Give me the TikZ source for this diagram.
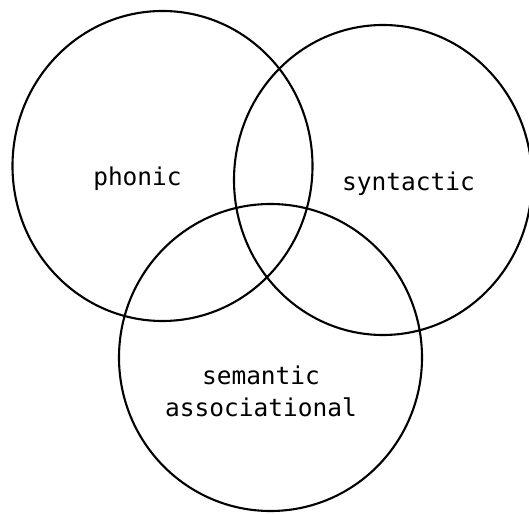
\documentclass[tikz,border=0pt]{standalone}
\usepackage{fontspec}
\setmonofont{DejaVu Sans Mono}
\usetikzlibrary{shapes.geometric}

\begin{document}
\begin{tikzpicture}[x=1pt,y=1pt,
  font=\ttfamily\fontsize{24.5}{32}\selectfont,
  ring/.style={ellipse,draw=black,line width=2.1pt,minimum width=300pt,
    minimum height=310pt,inner sep=0pt},
  tag/.style={align=center,inner sep=0pt}
]
\useasboundingbox (0,0) rectangle (529,513);
% The three overlapping sets.
\node[ring] (phonicset) at (162.5,347) {};
\node[ring,minimum width=298pt] (syntacticset) at (383,333) {};
\node[ring,minimum width=303pt,minimum height=307pt] (semanticset) at (270.5,155.5) {};
% Set labels.
\node[tag] (phonic) at (137.5,334) {phonic};
\node[tag] (syntactic) at (408.5,329) {syntactic};
\node[tag] (semantic) at (261,122) {semantic\\associational};
\end{tikzpicture}
\end{document}
